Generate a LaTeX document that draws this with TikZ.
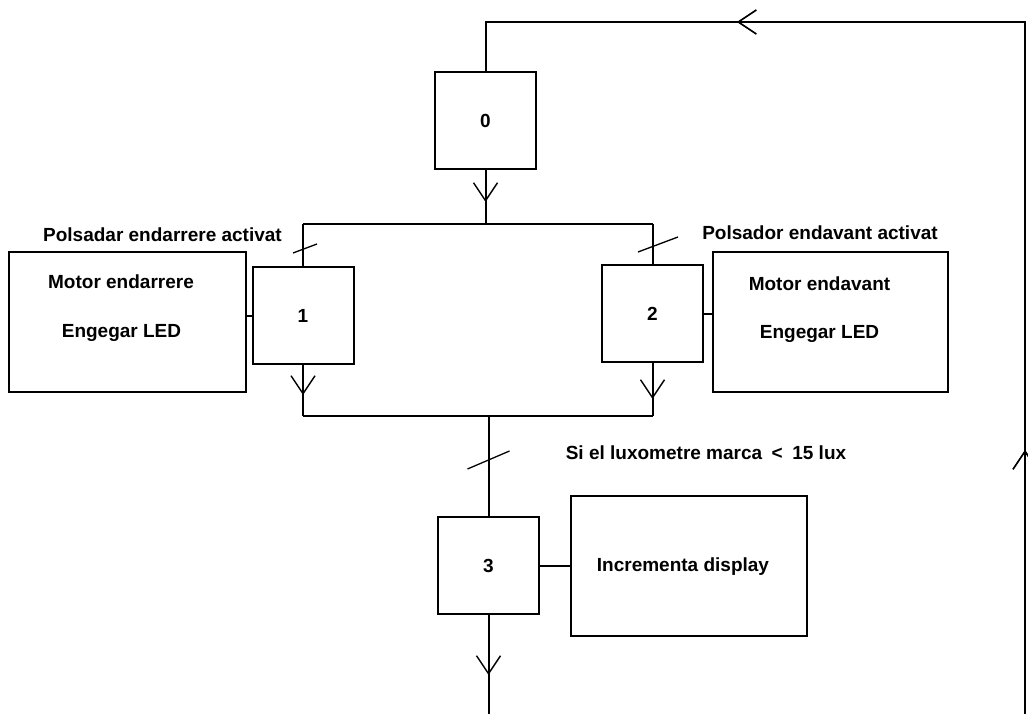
\documentclass[tikz,border=0pt]{standalone}
\usepackage{fontspec}
\setmainfont{Liberation Sans}
\usetikzlibrary{arrows.meta,decorations.markings}
\tikzset{
  stepbox/.style={draw,line width=2pt,minimum width=101pt,minimum height=97pt,inner sep=0pt,font=\fontsize{19}{22}\selectfont\bfseries},
  actbox/.style={draw,line width=2pt,minimum width=#1,minimum height=140pt,inner sep=0pt},
  lbl/.style={inner sep=0pt,font=\fontsize{19}{22}\selectfont\bfseries},
  tick/.style={line width=1.3pt},
  flowmark/.style={postaction={decorate},decoration={markings,
    mark=at position #1 with {\arrow{Straight Barb[length=18pt,width=24pt,line width=1.4pt]}}}}
}
\begin{document}
\begin{tikzpicture}[x=1pt,y=-1pt,line width=2pt]
\useasboundingbox (0,0) rectangle (1028,714);
% steps
\node[stepbox] (s0) at (485.5,120.5) {0};
\node[stepbox] (s1) at (303,315.5) {1};
\node[stepbox] (s2) at (652.5,313.5) {2};
\node[stepbox] (s3) at (488.5,565.5) {3};
% actions
\node[actbox=237pt] (act1) at (127.5,322) {};
\node[actbox=235pt] (act2) at (830.5,322) {};
\node[actbox=236pt] (act3) at (689,566) {};
\node[lbl] (act1a) at (121,282) {Motor endarrere};
\node[lbl] (act1b) at (121.5,333) {Engegar LED};
\node[lbl] (act2a) at (819.5,284) {Motor endavant};
\node[lbl] (act2b) at (819.5,334) {Engegar LED};
\node[lbl] (act3a) at (683,567) {Incrementa display};
% receptivities
\node[lbl] (r1) at (162.5,235) {Polsadar endarrere activat};
\node[lbl] (r2) at (820,233) {Polsador endavant activat};
\node[lbl] (r3) at (706,453) {Si el luxometre marca\hspace{0.5em}<\hspace{0.5em}15 lux};
% links
\coordinate (forkL) at (303,224);
\coordinate (forkR) at (652.5,224);
\coordinate (joinL) at (303,416);
\coordinate (joinR) at (652.5,416);
\coordinate (endB) at (488.5,716);
\coordinate (retB) at (1025,716);
\coordinate (retT) at (1025,22);
\draw[flowmark=32pt] (s0.south) -- (s0.south |- forkL);
\draw (forkL) -- (forkR);
\draw (forkL) -- (s1.north);
\draw (forkR) -- (s2.north);
\draw[flowmark=30pt] (s1.south) -- (joinL);
\draw[flowmark=36pt] (s2.south) -- (joinR);
\draw (joinL) -- (joinR);
\draw (s3.north |- joinL) -- (s3.north);
\draw[flowmark=60pt] (s3.south) -- (endB);
\draw[flowmark=266pt,flowmark=982pt] (retB) -- (retT) -| (s0.north);
\draw (s1.west) -- (s1.west -| act1.east);
\draw (s2.east) -- (s2.east -| act2.west);
\draw (s3.east) -- (s3.east -| act3.west);
% transition marks
\draw[tick] (303,249) ++(-10,4) -- ++(24,-9);
\draw[tick] (652.5,246.6) ++(-14.5,5.4) -- ++(40,-15);
\draw[tick] (488.5,460) ++(-21,9) -- ++(42,-18);
\end{tikzpicture}
\end{document}
